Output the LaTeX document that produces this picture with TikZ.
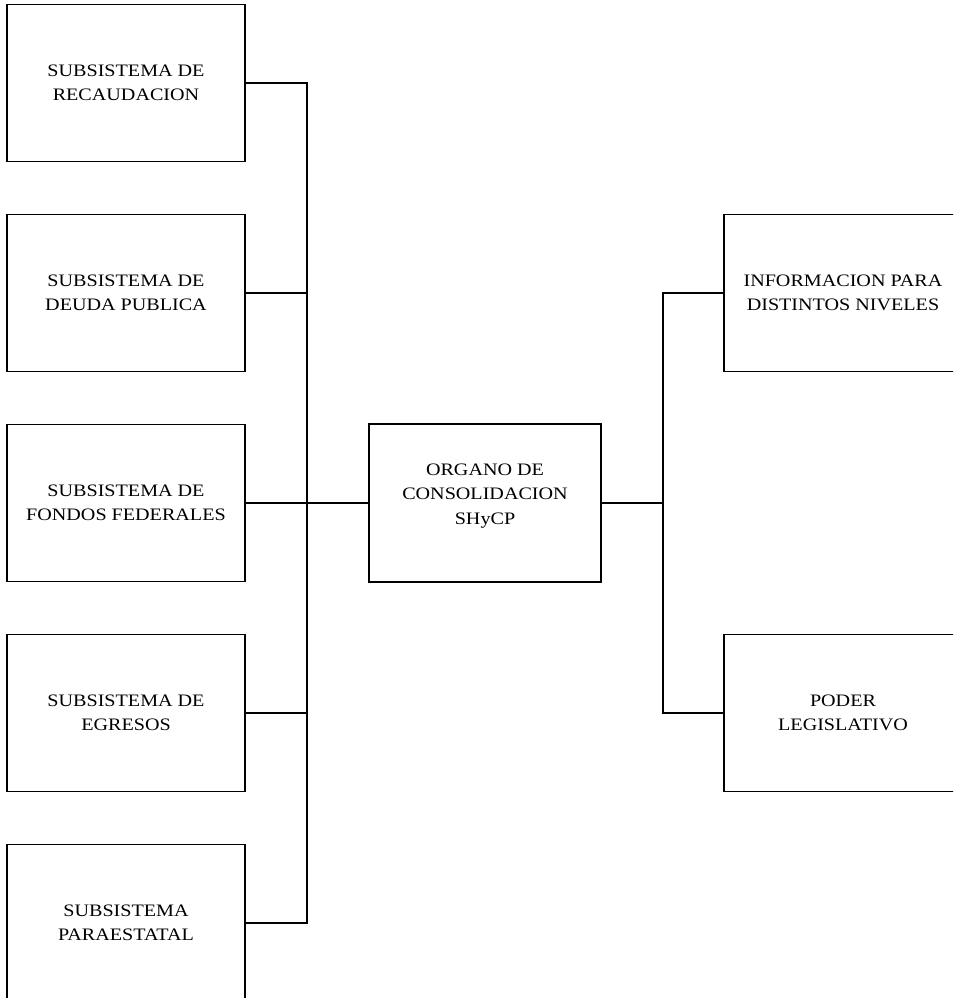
\documentclass[tikz,border=0pt]{standalone}
\usepackage{fontspec}
\setmainfont[FakeStretch=1.15]{Liberation Serif}
\usepackage{tikz}

\begin{document}
\begin{tikzpicture}[x=1pt,y=-1pt,
  caja/.style={draw,line width=1.5pt,minimum width=238pt,minimum height=157pt,
    align=center,inner sep=0pt,font=\fontsize{17.5}{24.5}\selectfont},
  linea/.style={line width=1.3pt}]
\useasboundingbox (0,0) rectangle (953,998);
\clip (0,0) rectangle (953,998);

% subsistemas
\node[caja] (rec) at (126,83) {SUBSISTEMA DE\\RECAUDACION};
\node[caja] (deu) at (126,293) {SUBSISTEMA DE\\DEUDA PUBLICA};
\node[caja] (fon) at (126,503) {SUBSISTEMA DE\\FONDOS FEDERALES};
\node[caja] (egr) at (126,713) {SUBSISTEMA DE\\EGRESOS};
\node[caja] (par) at (126,923) {SUBSISTEMA\\PARAESTATAL};

\node[caja,minimum width=232pt,minimum height=158pt] (org) at (485,503)
  {ORGANO DE\\CONSOLIDACION\\SHyCP\\[-6pt]};

\node[caja] (inf) at (843,293) {INFORMACION PARA\\DISTINTOS NIVELES};
\node[caja] (pod) at (843,713) {PODER\\LEGISLATIVO};

\coordinate (busL) at (307,0);
\coordinate (busR) at (663,0);

% conexiones
\draw[linea] (rec.east) -- (rec.east -| busL) -- (par.east -| busL) -- (par.east);
\draw[linea] (deu.east) -- (deu.east -| busL);
\draw[linea] (egr.east) -- (egr.east -| busL);
\draw[linea] (fon.east) -- (org.west);
\draw[linea] (org.east) -- (org.east -| busR);
\draw[linea] (inf.west) -- (inf.west -| busR) -- (pod.west -| busR) -- (pod.west);
\end{tikzpicture}
\end{document}
